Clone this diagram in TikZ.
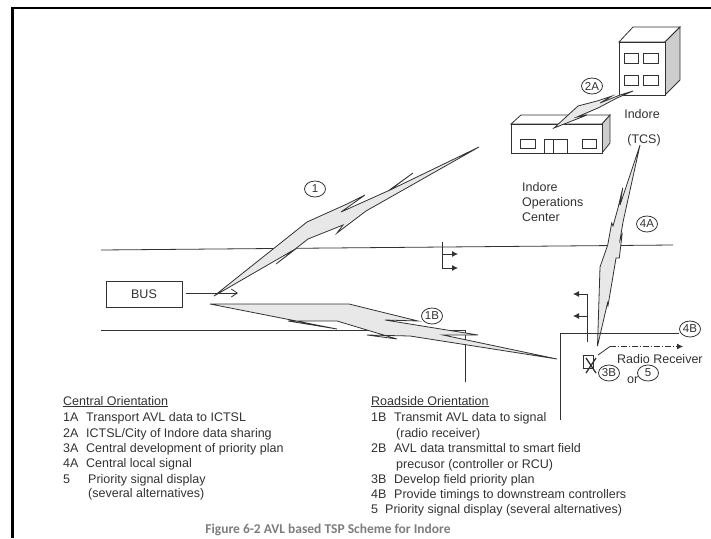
\documentclass[tikz,border=0pt]{standalone}
\usepackage{fontspec}
\setmainfont{Liberation Sans}
\newfontfamily\capfont{Carlito}
\usetikzlibrary{arrows.meta,positioning,shapes.geometric}
\definecolor{boltgray}{RGB}{232,232,232}
\definecolor{sidegray}{RGB}{205,205,205}
\definecolor{inkgray}{RGB}{50,50,50}
\definecolor{capgray}{RGB}{125,125,125}
\begin{document}
\begin{tikzpicture}[x=1pt,y=-1pt,>=Latex,font=\fontsize{12.5}{14}\selectfont,text=inkgray,
  ln/.style={draw=inkgray,line width=0.8pt},
  bolt/.style={draw=inkgray,fill=boltgray,line width=0.8pt,line join=miter},
  tag/.style={draw=inkgray,ellipse,inner sep=0pt,minimum width=21pt,minimum height=16pt,line width=0.8pt,font=\fontsize{11.5}{13}\selectfont},
  lbl/.style={inner sep=0pt,anchor=base west},
  mid/.style={inner sep=0pt,anchor=center},
  head/.style={-{Latex[length=6pt,width=6pt]}}]
\useasboundingbox (0,0) rectangle (711,538);
% frame
\draw[black,line width=2.7pt] (711,8) -- (12.5,8) -- (12.5,538);
% roads
\coordinate (roadAw) at (101,250); \coordinate (roadAe) at (673,245);
\coordinate (roadBw) at (101,330); \coordinate (roadBe) at (465,330); \coordinate (roadBs) at (465,382);
\coordinate (roadCn) at (560,333); \coordinate (roadCs) at (560,420);
\draw[ln] (roadAw) -- (roadAe);
\draw[ln] (roadBw) -- (roadBe) -- (roadBs);
% tall building
\draw[ln,fill=white] (619,42) -- (633,27) -- (680,27) -- (665,42) -- cycle;
\draw[ln,fill=sidegray] (665,42) -- (680,27) -- (680,80) -- (665,95) -- cycle;
\draw[ln,fill=white] (619,42) rectangle (665,95);
\draw[ln] (624,53) rectangle (638,63) (643,53) rectangle (658,63)
          (624,75) rectangle (638,85) (643,75) rectangle (658,85);
% low building
\draw[ln,fill=white] (511,124) -- (521,115) -- (610,115) -- (602,124) -- cycle;
\draw[ln,fill=sidegray] (602,124) -- (610,115) -- (610,143) -- (602,153) -- cycle;
\draw[ln,fill=white] (511,124) rectangle (602,153);
\draw[ln] (520,139) rectangle (535,148) (582,139) rectangle (596,148)
          (544,153) -- (544,139) -- (567,139) -- (567,153) (553,139) -- (553,153);
% bolts
\draw[bolt] (214,296) -- (307,222) -- (347,204) -- (365,195) -- (341,212) -- (390,190) -- (413,173) -- (388,191) -- (479,147)
  -- (366,211) -- (337,233) -- (343,225) -- (308,239) -- (276,264) -- (297,248) -- cycle;
\draw[bolt] (210,304) -- (349,304) -- (418,321) -- (385,320) -- (478,335) -- (443,335) -- (557,359)
  -- (410,336) -- (367,335) -- (397,339) -- (337,321) -- (288,321) -- (337,329) -- cycle;
\draw[bolt] (554,128) -- (578,106) -- (597,101) -- (612,96) -- (600,103) -- (620,95) -- (633,91)
  -- (617,98) -- (598,108) -- (577,117) -- (587,115) -- cycle;
\draw[bolt] (640,145) -- (620,205) -- (622.7,188) -- (618,208) -- (613,226) -- (611.7,223) -- (607.7,245) -- (600,267) -- (597.5,346)
  -- (607.5,303) -- (608,305.5) -- (612,282) -- (614,270) -- (616,258) -- (619.3,258) -- (622,235) -- (620,240) -- (623,222) -- cycle;
% signal heads
\coordinate (sigAn) at (442,242); \coordinate (sigAs) at (442,268);
\coordinate (sigAa) at (442,254); \coordinate (sigAb) at (458,254); \coordinate (sigAc) at (458,268);
\draw[ln,head] (sigAn) -- (sigAs) -- (sigAc);
\draw[ln,head] (sigAa) -- (sigAb);
\coordinate (sigBs) at (587,342); \coordinate (sigBn) at (587,294); \coordinate (sigBa) at (573,294);
\coordinate (sigBm) at (587,316); \coordinate (sigBb) at (573,316);
\draw[ln,head] (sigBs) -- (sigBn) -- (sigBa);
\draw[ln,head] (sigBm) -- (sigBb);
% bus
\node[draw=inkgray,line width=0.8pt,minimum width=76pt,minimum height=26pt,inner sep=0pt] (bus) at (144,294) {BUS};
\coordinate (busfrom) at (186,293); \coordinate (busto) at (238,293);
\draw[ln,-{Straight Barb[length=6pt,width=8pt]}] (busfrom) -- (busto);
% receiver
\draw[ln] (583,355) rectangle (593,368);
\draw[draw=inkgray,line width=1.3pt] (586,358) -- (596,373) (596,358) -- (586,373);
\coordinate (rxa) at (598,355); \coordinate (rxb) at (610,346.5); \coordinate (rxc) at (683,346.5);
\draw[ln] (rxa) -- (rxb);
\draw[ln,head,dash pattern=on 6pt off 2pt on 1pt off 2pt] (rxb) -- (rxc);
% tags
\node[tag] (tag1) at (315,189) {1};
\node[tag] (tag1b) at (432,316) {1B};
\node[tag] (tag2a) at (592,86) {2A};
\node[tag] (tag3b) at (609,373) {3B};
\node[tag] (tag4a) at (647,224) {4A};
\node[tag] (tag4b) at (690,329) {4B};
\draw[ln] (roadCs) -- (roadCn) -- (tag4b.west |- roadCn);
\node[lbl] (rxlbl) at (617,363) {Radio Receiver};
\node[lbl] (orlbl) at (627,383) {or};
\node[tag] (tag5) at (648,373) {5};
% place names
\node[mid] (indore) at (642,114) {Indore};
\node[mid] (tcs) at (644,140) {(TCS)};
\node[lbl] (opsa) at (522,191) {Indore};
\node[lbl] (opsb) at (522,206) {Operations};
\node[lbl] (opsc) at (522,221) {Center};
% left list
\node[lbl] (chead) at (63,405) {\underline{Central Orientation}};
\node[lbl] (c1) at (63,421) {1A}; \node[lbl] (c1t) at (86,421) {Transport AVL data to ICTSL};
\node[lbl] (c2) at (63,437) {2A}; \node[lbl] (c2t) at (86,437) {ICTSL/City of Indore data sharing};
\node[lbl] (c3) at (63,452) {3A}; \node[lbl] (c3t) at (86,452) {Central development of priority plan};
\node[lbl] (c4) at (63,467) {4A}; \node[lbl] (c4t) at (86,467) {Central local signal};
\node[lbl] (c5) at (63,483) {5}; \node[lbl] (c5t) at (88,483) {Priority signal display};
\node[lbl] (c5u) at (88,497) {(several alternatives)};
% right list
\node[lbl] (rhead) at (371,405) {\underline{Roadside Orientation}};
\node[lbl] (r1) at (371,421) {1B}; \node[lbl] (r1t) at (394,421) {Transmit AVL data to signal};
\node[lbl] (r1u) at (396,437) {(radio receiver)};
\node[lbl] (r2) at (371,452) {2B}; \node[lbl] (r2t) at (394,452) {AVL data transmittal to smart field};
\node[lbl] (r2u) at (396,468) {precusor (controller or RCU)};
\node[lbl] (r3) at (371,483) {3B}; \node[lbl] (r3t) at (394,483) {Develop field priority plan};
\node[lbl] (r4) at (371,498) {4B}; \node[lbl] (r4t) at (394,498) {Provide timings to downstream controllers};
\node[lbl] (r5) at (371,513) {5}; \node[lbl] (r5t) at (385,513) {Priority signal display (several alternatives)};
% caption
\node[mid,text=capgray,font=\capfont\bfseries\fontsize{13.5}{15}\selectfont] (caption) at (328,530) {Figure 6-2 AVL based TSP Scheme for Indore};
\end{tikzpicture}
\end{document}
